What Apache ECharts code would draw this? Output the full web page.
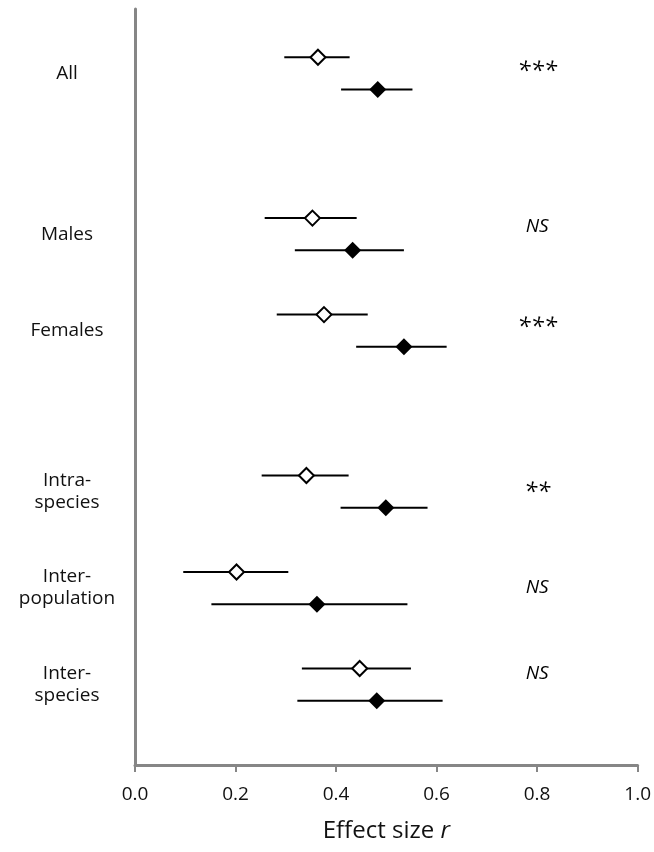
<!DOCTYPE html>
<html>
<head>
<meta charset="utf-8">
<script src="https://cdn.jsdelivr.net/npm/echarts@6/dist/echarts.min.js"></script>
<style>html,body{margin:0;padding:0;background:#fff}#c{width:654px;height:852px}</style>
</head>
<body>
<div id="c"></div>
<script>
const categories = ['All', 'Males', 'Females', 'Intra-\nspecies', 'Inter-\npopulation', 'Inter-\nspecies'];
const rowOpen = [0, 5, 8, 13, 16, 19];
const rowFilled = [1, 6, 9, 14, 17, 20];
const openMean = [0.364, 0.353, 0.376, 0.341, 0.202, 0.447];
const openLo = [0.297, 0.258, 0.282, 0.252, 0.096, 0.332];
const openHi = [0.427, 0.441, 0.463, 0.425, 0.305, 0.549];
const filledMean = [0.483, 0.433, 0.535, 0.499, 0.362, 0.481];
const filledLo = [0.410, 0.318, 0.440, 0.409, 0.152, 0.323];
const filledHi = [0.552, 0.535, 0.620, 0.582, 0.542, 0.612];
const signif = ['***', 'NS', '***', '**', 'NS', 'NS'];
const sigRow = [0.42, 5.25, 8.38, 13.52, 16.5, 19.17];
const sigX = 0.8;
const xTicks = [0, 0.2, 0.4, 0.6, 0.8, 1.0];

const font = '"Open Sans", "Noto Sans", sans-serif';
const labelRow = {};
rowOpen.forEach((r, i) => { labelRow[(r + 0.5).toFixed(1)] = categories[i]; });

const bars = [];
rowOpen.forEach((r, i) => { bars.push([openLo[i], openHi[i], r]); });
rowFilled.forEach((r, i) => { bars.push([filledLo[i], filledHi[i], r]); });

const chart = echarts.init(document.getElementById('c'), null, {renderer: 'canvas'});
chart.setOption({
  animation: false,
  backgroundColor: '#fff',
  grid: {left: 135, right: 16, top: 9, bottom: 87, containLabel: false},
  xAxis: {
    type: 'value', min: 0, max: 1, interval: 0.2,
    axisLine: {show: true, onZero: false, lineStyle: {color: '#868686', width: 3}},
    axisTick: {show: true, length: 7, lineStyle: {color: '#868686', width: 2}},
    splitLine: {show: false},
    axisLabel: {color: '#111', fontFamily: font, fontSize: 19, margin: 20,
      formatter: v => xTicks.some(t => Math.abs(t - v) < 1e-9) ? v.toFixed(1) : ''},
    name: '{a|Effect size }{b|r}',
    nameLocation: 'middle', nameGap: 54,
    nameTextStyle: {rich: {
      a: {fontFamily: font, fontSize: 24, color: '#111'},
      b: {fontFamily: font, fontSize: 24, color: '#111', fontStyle: 'italic'}
    }}
  },
  yAxis: {
    type: 'value', inverse: true, min: -1.5, max: 22, interval: 0.5,
    axisLine: {show: true, onZero: false, lineStyle: {color: '#868686', width: 3}},
    axisTick: {show: false},
    splitLine: {show: false},
    axisLabel: {
      color: '#111', fontFamily: font, fontSize: 19, lineHeight: 22,
      align: 'center', margin: 68, showMinLabel: true, showMaxLabel: true,
      formatter: v => labelRow[v.toFixed(1)] || ''
    }
  },
  series: [
    {
      type: 'custom', z: 2,
      data: bars,
      encode: {x: [0, 1], y: 2},
      renderItem: (params, api) => {
        const a = api.coord([api.value(0), api.value(2)]);
        const b = api.coord([api.value(1), api.value(2)]);
        return {type: 'line', shape: {x1: a[0], y1: a[1], x2: b[0], y2: b[1]},
          style: {stroke: '#000', lineWidth: 2}};
      }
    },
    {
      type: 'scatter', z: 5, symbol: 'diamond', symbolSize: 15,
      itemStyle: {color: '#fff', borderColor: '#000', borderWidth: 2, opacity: 1},
      data: openMean.map((v, i) => [v, rowOpen[i]])
    },
    {
      type: 'scatter', z: 5, symbol: 'diamond', symbolSize: 17,
      itemStyle: {color: '#000', borderColor: '#000', borderWidth: 0, opacity: 1},
      data: filledMean.map((v, i) => [v, rowFilled[i]])
    },
    {
      type: 'scatter', z: 6, symbol: 'circle', symbolSize: 1, silent: true,
      itemStyle: {color: '#fff', opacity: 1},
      data: signif.map((s, i) => ({value: [sigX, sigRow[i]], name: s})),
      label: {show: true, position: 'inside', opacity: 1,
        formatter: p => p.name.startsWith('*') ? '{s|' + p.name + '}' : '{n|' + p.name + '}',
        rich: {
          s: {fontFamily: font, fontSize: 24, fontStyle: 'italic', color: '#000', opacity: 1},
          n: {fontFamily: font, fontSize: 19, fontStyle: 'italic', color: '#000', opacity: 1}
        }}
    }
  ]
});
</script>
</body>
</html>
